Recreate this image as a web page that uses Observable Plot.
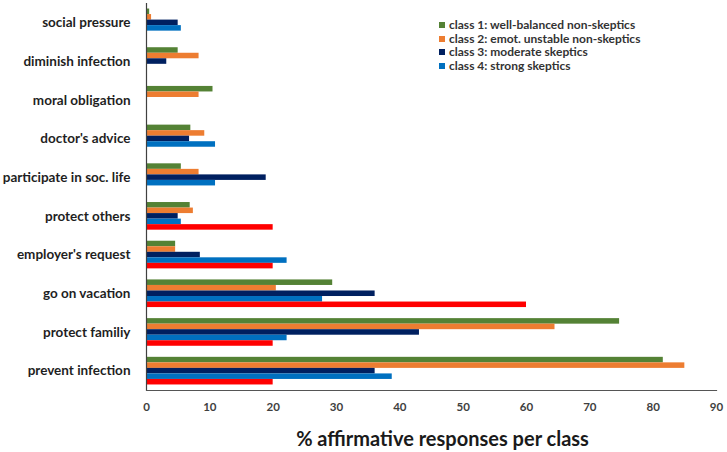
<!DOCTYPE html>
<html>
<head>
<meta charset="utf-8">
<script src="https://cdn.jsdelivr.net/npm/d3@7"></script>
<script src="https://cdn.jsdelivr.net/npm/@observablehq/plot@0.6"></script>
<style>
  html, body { margin: 0; padding: 0; background: #fff; }
  #wrap { position: relative; width: 727px; height: 452px; font-family: Lato, "Open Sans", sans-serif; }
  #legend { position: absolute; left: 439px; top: 18px; font-size: 12px; font-weight: bold; color: #333; line-height: 13.7px; }
  #legend .item { display: flex; align-items: center; white-space: nowrap; }
  #legend .sw { width: 6px; height: 6px; margin-right: 4px; display: inline-block; }
  svg { font-family: Lato, "Open Sans", sans-serif; }
  g[aria-label="x-axis tick label"] text { font-size: 11.5px; font-weight: bold; fill: #404040; }
  g[aria-label="y-axis tick label"] text { font-size: 13.5px; font-weight: bold; fill: #1f1f1f; }
</style>
</head>
<body>
<div id="wrap"><div id="legend"></div></div>
<script>
const categories = ["social pressure", "diminish infection", "moral obligation", "doctor's advice",
  "participate in soc. life", "protect others", "employer's request", "go on vacation",
  "protect familiy", "prevent infection"];
const seriesNames = ["class 1: well-balanced non-skeptics", "class 2: emot. unstable non-skeptics",
  "class 3: moderate skeptics", "class 4: strong skeptics", "class 5"];
const legendSeries = seriesNames.slice(0, 4);
const class1 = [0.5, 5.0, 10.5, 7.0, 5.5, 6.9, 4.6, 29.4, 74.7, 81.6];
const class2 = [0.8, 8.3, 8.3, 9.2, 8.3, 7.4, 4.6, 20.5, 64.5, 85.0];
const class3 = [5.0, 3.2, null, 6.8, 18.9, 5.0, 8.5, 36.1, 43.1, 36.1];
const class4 = [5.5, null, null, 10.9, 10.9, 5.5, 22.2, 27.8, 22.2, 38.8];
const class5 = [null, null, null, null, null, 20, 20, 60, 20, 20];
const colors = ["#548235", "#ED7D31", "#002060", "#0070C0", "#FF0000"];
const xTicks = [0, 10, 20, 30, 40, 50, 60, 70, 80, 90];
const xLabel = "% affirmative responses per class";

const seriesValues = [class1, class2, class3, class4, class5];
const data = [];
categories.forEach((c, i) => {
  seriesNames.forEach((s, j) => {
    const v = seriesValues[j][i];
    if (v != null) data.push({category: c, series: s, value: v, key: c + "|" + j});
  });
});
// band domain: one spacer slot before and after each group of five series
const yDomain = [];
categories.forEach(c => {
  yDomain.push(c + "|pre");
  seriesNames.forEach((s, j) => yDomain.push(c + "|" + j));
  yDomain.push(c + "|post");
});
const labelKeys = categories.map(c => c + "|2");

const chart = Plot.plot({
  width: 727,
  height: 452,
  marginTop: 3,
  marginBottom: 62,
  marginLeft: 146,
  marginRight: 11,
  x: {domain: [0, 90], ticks: xTicks, tickSize: 0, tickPadding: 12, label: null},
  y: {domain: yDomain, padding: 0, ticks: labelKeys, tickFormat: k => k.split("|")[0], tickSize: 0, tickPadding: 16, label: null},
  color: {domain: seriesNames, range: colors},
  marks: [
    Plot.barX(data, {x: "value", y: "key", fill: "series"}),
    Plot.ruleX([0], {stroke: "#404040", strokeWidth: 1.2}),
    Plot.frame({anchor: "bottom", stroke: "#555", strokeWidth: 1.2}),
    Plot.text([xLabel], {frameAnchor: "bottom", lineAnchor: "bottom", dy: 55, dx: 11,
      fontSize: 20, fontWeight: "bold", fill: "#1a1a1a"})
  ]
});
document.getElementById("wrap").appendChild(chart);

const legend = document.getElementById("legend");
legendSeries.forEach((s, j) => {
  const item = document.createElement("div");
  item.className = "item";
  const sw = document.createElement("span");
  sw.className = "sw";
  sw.style.background = colors[j];
  item.appendChild(sw);
  item.appendChild(document.createTextNode(s));
  legend.appendChild(item);
});
</script>
</body>
</html>
